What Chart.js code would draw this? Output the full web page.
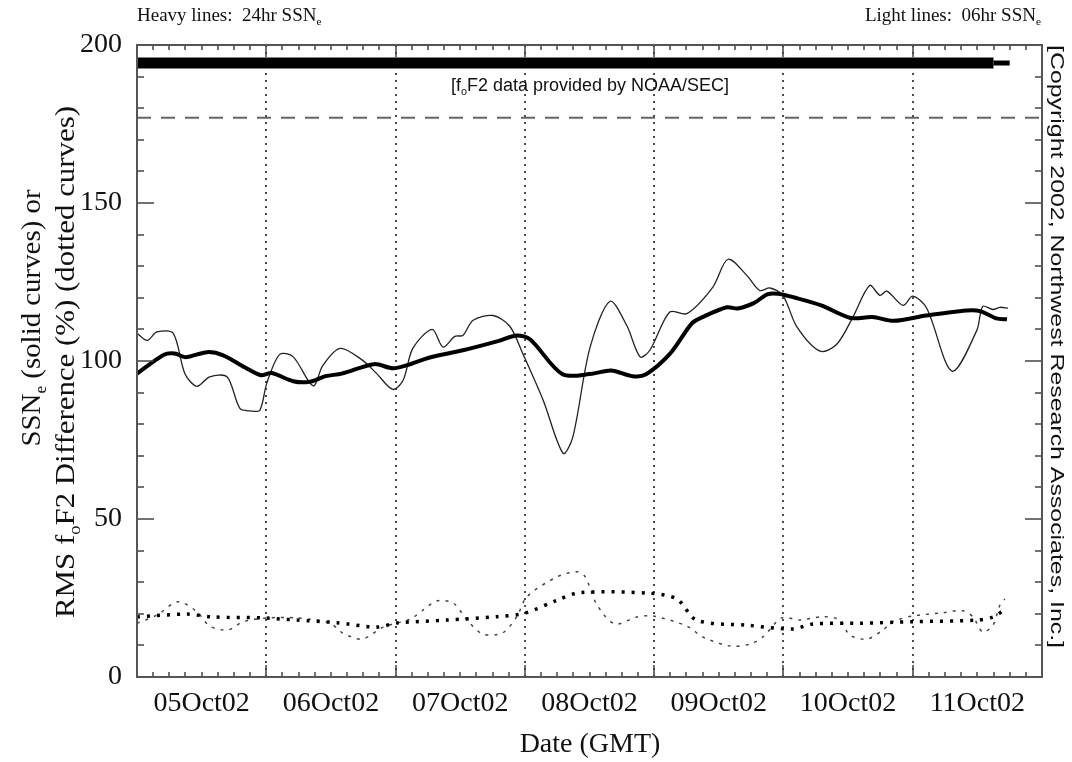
<!DOCTYPE html>
<html>
<head>
<meta charset="utf-8">
<script src="https://cdn.jsdelivr.net/npm/chart.js@4.4.1/dist/chart.umd.min.js"></script>
<style>
  html, body { margin: 0; background: #fff; }
  #wrap { width: 1072px; height: 762px; }
</style>
</head>
<body>
<div id="wrap"><canvas id="chart" width="1072" height="762"></canvas></div>
<script>
// x values are hours since 05Oct02 00:00 GMT
const dayLabels = ['05Oct02', '06Oct02', '07Oct02', '08Oct02', '09Oct02', '10Oct02', '11Oct02'];

// heavy solid: 24hr SSNe
const ssn24Hours = [0, 5, 7, 9, 13, 16, 20, 23, 25, 29, 32, 35, 38, 44, 47.5, 50, 54.5, 60.5, 67, 70.5, 73, 79,
  84.5, 88, 92, 94.5, 99, 103, 105, 109.5, 111.5, 114.5, 117, 119, 122, 127, 132.5, 136.5, 140.5, 146.5, 154, 156.5, 159.5, 161.5];
const ssn24 = [96, 102, 102.4, 101.2, 102.8, 101.8, 98, 95.5, 96.2, 93.6, 93.4, 95.2, 96, 99, 97.7, 98.6, 101.2, 103.4, 106.3, 108.1, 106.8, 95.8,
  96, 97, 95.2, 95.8, 102.4, 111.9, 113.9, 117, 116.6, 118.3, 121.1, 121.3, 120.1, 117.6, 113.6, 113.9, 112.7, 114.4, 116, 115.8, 113.5, 113.2];

// light solid: 06hr SSNe
const ssn06Hours = [0, 1.9, 3.7, 6.7, 8.9, 11.1, 13.5, 16.7, 19.1, 21, 22.8, 24.1, 26.5, 29, 32.7, 34.5, 37.7, 41.9, 44.5, 47.5, 49.4,
  51.2, 54.8, 56.8, 59, 60.5, 62.4, 66.1, 69.2, 71.6, 75.4, 79.1, 80.9, 84.1, 87.8, 90.9, 93.4, 95.2, 98.9, 102.1, 106.9,
  109.7, 113.2, 115.6, 117.5, 119.9, 122.5, 126.8, 129.9, 132.9, 136, 137.9, 139.2, 142.2, 144, 146.6, 151.3, 155.9, 157, 158.9, 160.2, 161.7];
const ssn06 = [108.8, 106.5, 109.2, 108.8, 96, 92, 95, 95, 85, 84.2, 84.4, 93, 102.1, 101.3, 92.1, 98.6, 104, 100.2, 96, 91, 93.9,
  104, 110, 104.4, 107.8, 108.1, 112.9, 114.4, 111, 102.4, 87.6, 70.8, 75.9, 104.3, 118.9, 111.3, 101.3, 103.4, 115.5, 115, 123.4,
  132.2, 127.1, 122.3, 123.1, 120.8, 110.8, 103.1, 105.3, 113.9, 123.9, 120.8, 122.1, 117.6, 120.5, 116.7, 96.8, 109.7, 117.3, 116.3, 117, 116.7];

// heavy dotted: 24hr RMS foF2 difference (%)
const rms24Hours = [0, 9.3, 14.1, 23.4, 29.7, 37.1, 44.5, 48.3, 57.5, 66.8, 72, 78, 82.2, 95.2, 100.2, 103.9, 113.2, 121.8, 125.5, 134.2, 144, 155.9, 158.9, 160.6];
const rms24 = [19, 19.9, 19, 18.7, 18, 17.2, 15.8, 17.1, 18, 19.1, 20.2, 24.3, 26.7, 26.5, 24.7, 18, 16.4, 15.2, 16.8, 17, 17.5, 18, 19, 20.7];

// light dotted: 06hr RMS foF2 difference (%)
const rms06Hours = [0, 3.7, 7.6, 11.1, 13.5, 16.9, 19.7, 24.1, 29.7, 35.8, 38.2, 41.8, 45.7, 50.7, 53.1, 55.7, 58.7, 61.3, 64.2, 67.9,
  70.5, 72.4, 78, 81.7, 83.2, 85.4, 88.7, 92.8, 95.8, 102.1, 105.1, 110.1, 113.8, 116.2, 119.7, 123.1, 127.3, 130.5, 132.3, 135.5,
  138.5, 140.3, 144, 149.6, 153.3, 155.2, 157, 158.9, 160.2, 161.1];
const rms06 = [17, 19.6, 23.8, 20.7, 16.1, 14.9, 17.5, 18.7, 18.7, 17.1, 13.9, 12, 15.8, 18.3, 21.2, 24.1, 23.4, 18, 13.6, 14,
  19.1, 25.4, 31.7, 33.3, 31.7, 22.8, 16.8, 19, 19.3, 16.1, 12.6, 9.8, 10.4, 12.7, 18.7, 18, 19.1, 18, 13.3, 12,
  14.9, 17.5, 19.3, 20.3, 21, 19, 14.2, 16.4, 22.8, 24.7];

// data coverage bar at top, and dashed reference level
const coverageLevel = 194.3;
const coverageHours = [0, 159];
const coverageTailHours = [159, 162];
const refLevel = 177;
const refHours = [0, 168];

const pts = (xs, ys) => xs.map((x, i) => ({ x, y: ys[i] }));
const flat = (xs, v) => xs.map(x => ({ x, y: v }));

const SERIF = '"Liberation Serif", "Times New Roman", serif';
const SANS = '"Liberation Sans", Arial, sans-serif';

// draw text made of pieces, some of them subscripts; optional target length stretches it
const drawRich = (ctx, parts, x, y, align, size, family, length) => {
  const subSize = size * 0.6;
  const widths = parts.map(([t, sub]) => {
    ctx.font = `${sub ? subSize : size}px ${family}`;
    return ctx.measureText(t).width;
  });
  const total = widths.reduce((a, b) => a + b, 0);
  const k = length ? length / total : 1;
  ctx.save();
  ctx.translate(x, y);
  ctx.scale(k, 1);
  let cx = align === 'center' ? -total / 2 : align === 'right' ? -total : 0;
  ctx.textAlign = 'left';
  ctx.textBaseline = 'alphabetic';
  parts.forEach(([t, sub], i) => {
    ctx.font = `${sub ? subSize : size}px ${family}`;
    ctx.fillText(t, cx, sub ? size * 0.22 : 0);
    cx += widths[i];
  });
  ctx.restore();
};

const frameTicks = {
  id: 'frameTicks',
  beforeDatasetsDraw(chart) {
    const { ctx, chartArea: a, scales: { x } } = chart;
    ctx.save();
    ctx.strokeStyle = '#111';
    ctx.lineWidth = 1.5;
    ctx.setLineDash([2, 5]);
    for (let h = 24; h < 168; h += 24) {
      const px = Math.round(x.getPixelForValue(h));
      ctx.beginPath();
      ctx.moveTo(px, a.top);
      ctx.lineTo(px, a.bottom);
      ctx.stroke();
    }
    ctx.restore();
  },
  afterDatasetsDraw(chart) {
    const { ctx, chartArea: a, scales: { x, y } } = chart;
    ctx.save();
    ctx.strokeStyle = '#444';
    ctx.lineWidth = 1.5;
    ctx.beginPath();
    for (let h = 3; h < 168; h += 3) {
      const px = Math.round(x.getPixelForValue(h));
      const len = h % 24 === 0 ? 12 : 5;
      ctx.moveTo(px, a.bottom); ctx.lineTo(px, a.bottom - len);
      ctx.moveTo(px, a.top); ctx.lineTo(px, a.top + len);
    }
    for (let v = 10; v < 200; v += 10) {
      const py = Math.round(y.getPixelForValue(v));
      const len = v % 50 === 0 ? 17 : 7;
      ctx.moveTo(a.left, py); ctx.lineTo(a.left + len, py);
      ctx.moveTo(a.right, py); ctx.lineTo(a.right - len, py);
    }
    ctx.stroke();
    ctx.lineWidth = 2;
    ctx.strokeStyle = '#555';
    ctx.strokeRect(a.left, a.top, a.right - a.left, a.bottom - a.top);
    ctx.restore();
  },
  afterDraw(chart) {
    const { ctx } = chart;
    ctx.save();
    ctx.fillStyle = '#111';
    drawRich(ctx, [['Heavy lines:  24hr SSN'], ['e', true]], 137, 21, 'left', 19, SERIF);
    drawRich(ctx, [['Light lines:  06hr SSN'], ['e', true]], 1041, 21, 'right', 19, SERIF);
    drawRich(ctx, [['[f'], ['o', true], ['F2 data provided by NOAA/SEC]']], 590, 91, 'center', 18, SANS);

    ctx.save();
    ctx.translate(40, 318);
    ctx.rotate(-Math.PI / 2);
    drawRich(ctx, [['SSN'], ['e', true], [' (solid curves) or']], 0, 0, 'center', 28, SERIF, 257);
    ctx.restore();

    ctx.save();
    ctx.translate(74, 362);
    ctx.rotate(-Math.PI / 2);
    drawRich(ctx, [['RMS f'], ['o', true], ['F2 Difference (%) (dotted curves)']], 0, 0, 'center', 28, SERIF, 512);
    ctx.restore();

    ctx.save();
    ctx.translate(1051, 45);
    ctx.rotate(Math.PI / 2);
    drawRich(ctx, [['[Copyright 2002, Northwest Research Associates, Inc.]']], 0, 0, 'left', 18, SANS, 603);
    ctx.restore();

    ctx.font = `28px ${SERIF}`;
    ctx.textAlign = 'center';
    ctx.textBaseline = 'alphabetic';
    ctx.fillText('Date (GMT)', 590, 752);
    ctx.restore();
  }
};

const line = (data, opts) => Object.assign({
  data, borderColor: '#000', borderWidth: 1, pointRadius: 0, tension: 0.3, fill: false, borderCapStyle: 'butt'
}, opts);

new Chart(document.getElementById('chart'), {
  type: 'line',
  data: {
    datasets: [
      line(pts(ssn24Hours, ssn24), { borderWidth: 4, borderJoinStyle: 'round' }),
      line(pts(ssn06Hours, ssn06), { borderWidth: 1.3, borderColor: '#222' }),
      line(pts(rms24Hours, rms24), { borderWidth: 3.5, borderDash: [3, 7] }),
      line(pts(rms06Hours, rms06), { borderWidth: 1.5, borderColor: '#444', borderDash: [3, 6] }),
      line(flat(coverageHours, coverageLevel), { borderWidth: 11, tension: 0 }),
      line(flat(coverageTailHours, coverageLevel), { borderWidth: 5, tension: 0 }),
      line(flat(refHours, refLevel), { borderWidth: 2, borderColor: '#666', borderDash: [14, 10], tension: 0 }),
    ],
  },
  options: {
    responsive: false,
    animation: false,
    layout: { padding: { left: 0, right: 30, top: 45, bottom: 0 } },
    scales: {
      x: {
        type: 'linear',
        min: 0,
        max: 168,
        afterFit: s => { s.height = 85; },
        grid: { display: false, drawTicks: false },
        border: { display: false },
        ticks: {
          stepSize: 12,
          autoSkip: false,
          maxRotation: 0,
          padding: 10,
          color: '#111',
          font: { family: SERIF, size: 28 },
          callback: v => (v % 24 === 12 ? dayLabels[(v - 12) / 24] : ''),
        },
      },
      y: {
        min: 0,
        max: 200,
        afterFit: s => { s.width = 137; },
        grid: { display: false, drawTicks: false },
        border: { display: false },
        ticks: {
          stepSize: 50,
          padding: 15,
          color: '#111',
          font: { family: SERIF, size: 28 },
        },
      },
    },
    plugins: {
      legend: { display: false },
      tooltip: { enabled: false },
    },
  },
  plugins: [frameTicks],
});
</script>
</body>
</html>
